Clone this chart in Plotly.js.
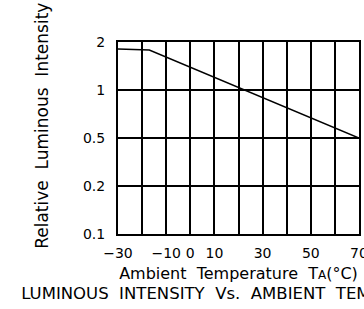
<!DOCTYPE html>
<html>
<head>
<meta charset="utf-8">
<script src="https://cdn.plot.ly/plotly-3.0.1.min.js"></script>
<style>html,body{margin:0;padding:0;background:#fff;}#chart{width:364px;height:309px;}</style>
</head>
<body>
<div id="chart"></div>
<script>
// Data
const temperatureC = [-30, -17, 70];
const relIntensity = [1.81, 1.78, 0.5];

// Axis ticks
const xGridVals = [-30, -20, -10, 0, 10, 20, 30, 40, 50, 60, 70];
const xTickText = ['\u221230', '', '\u221210', '0', '10', '', '30', '', '50', '', '70'];
const yTickVals = [0.125, 0.25, 0.5, 1, 2];
const yTickText = ['0.1', '0.2', '0.5', '1', '2'];

const FONT = 'DejaVu Sans, sans-serif';

const trace = {
  x: temperatureC,
  y: relIntensity,
  type: 'scatter',
  mode: 'lines',
  line: {color: '#000', width: 1.5},
  hoverinfo: 'skip'
};

const layout = {
  width: 364,
  height: 309,
  margin: {l: 118, r: 5, t: 42, b: 75},
  paper_bgcolor: '#fff',
  plot_bgcolor: '#fff',
  showlegend: false,
  font: {family: FONT, color: '#000'},
  title: {
    text: 'LUMINOUS  INTENSITY  Vs.  AMBIENT  TEMPERATURE',
    font: {family: FONT, size: 16.5, color: '#000'},
    xref: 'paper', x: 0.5, xanchor: 'center',
    yref: 'container', y: 0.05, yanchor: 'middle'
  },
  annotations: [{
    text: 'Relative  Luminous  Intensity',
    textangle: -90,
    xref: 'paper', x: -0.316, xanchor: 'center',
    yref: 'paper', y: 0.5625, yanchor: 'middle',
    showarrow: false,
    font: {family: FONT, size: 17, color: '#000'}
  }],
  xaxis: {
    type: 'linear',
    range: [-30, 70],
    tickmode: 'array',
    tickvals: xGridVals,
    ticktext: xTickText,
    ticks: '',
    ticklabelstandoff: 5,
    ticklabeloverflow: 'allow',
    tickfont: {family: FONT, size: 14, color: '#000'},
    showgrid: true,
    gridcolor: '#000',
    gridwidth: 2,
    zeroline: false,
    showline: true,
    linecolor: '#000',
    linewidth: 2,
    mirror: true,
    fixedrange: true,
    title: {
      text: 'Ambient  Temperature  T<span style="font-size:12px">A</span>(\u00B0C)',
      font: {family: FONT, size: 16, color: '#000'},
      standoff: 8
    }
  },
  yaxis: {
    type: 'log',
    range: [Math.log10(0.125), Math.log10(2)],
    tickmode: 'array',
    tickvals: yTickVals,
    ticktext: yTickText,
    ticks: '',
    ticklabelstandoff: 8,
    tickfont: {family: FONT, size: 14, color: '#000'},
    showgrid: true,
    gridcolor: '#000',
    gridwidth: 2,
    zeroline: false,
    showline: true,
    linecolor: '#000',
    linewidth: 2,
    mirror: true,
    fixedrange: true
  }
};

Plotly.newPlot('chart', [trace], layout, {displayModeBar: false, staticPlot: true});
</script>
</body>
</html>
